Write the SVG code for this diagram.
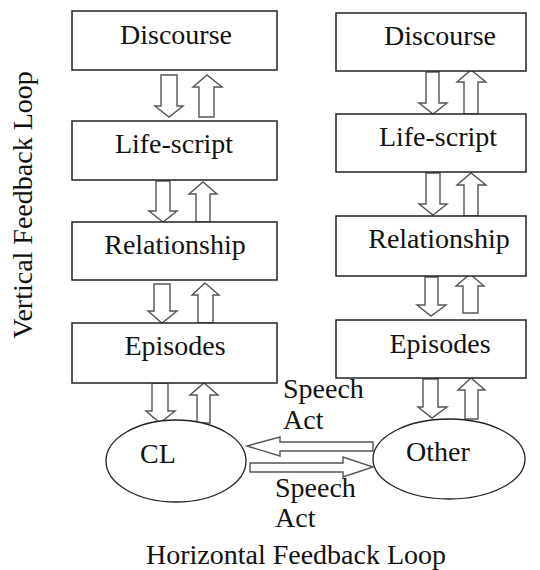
<svg xmlns="http://www.w3.org/2000/svg" width="540" height="570" viewBox="0 0 540 570">
<style>
.box{fill:#fff;stroke:#222;stroke-width:1.5}
.ell{fill:#fff;stroke:#222;stroke-width:1.3}
.arr{fill:#fff;stroke:#555;stroke-width:1.4;stroke-linejoin:miter}
text{font-family:'Liberation Serif','Times New Roman',serif;font-size:28px;fill:#111}
.c{text-anchor:middle}
</style>
<rect width="540" height="570" fill="#fff"/>
<g id="connectors">
<path class="arr" d="M161,75 H177 V106 H183 L169,117 L155,106 H161 Z"/>
<path class="arr" d="M199,117 V87 H193 L207,75 L222,87 H214 V117 Z"/>
<path class="arr" d="M156,181 H170 V211 H177 L163,222 L149,211 H156 Z"/>
<path class="arr" d="M196,222 V194 H189 L203,182 L217,194 H210 V222 Z"/>
<path class="arr" d="M154,284 H170 V311 H177 L162,323 L148,311 H154 Z"/>
<path class="arr" d="M198,323 V295 H192 L205,283 L219,295 H213 V323 Z"/>
<path class="arr" d="M152,383 H168 V411 H175 L160,423 L146,411 H152 Z"/>
<path class="arr" d="M197,423 V395 H190 L204,383 L218,395 H210 V423 Z"/>
<path class="arr" d="M426,72 H439 V103 H447 L433,114 L419,103 H426 Z"/>
<path class="arr" d="M464,114 V82 H457 L471,70 L486,82 H478 V114 Z"/>
<path class="arr" d="M426,173 H440 V204 H447 L433,215 L419,204 H426 Z"/>
<path class="arr" d="M464,216 V185 H457 L471,173 L486,185 H478 V216 Z"/>
<path class="arr" d="M425,277 H438 V305 H446 L431,316 L417,305 H425 Z"/>
<path class="arr" d="M463,313 V286 H456 L470,274 L484,286 H478 V313 Z"/>
<path class="arr" d="M423,379 H438 V407 H447 L432,418 L418,407 H423 Z"/>
<path class="arr" d="M465,419 V390 H458 L471,378 L485,390 H478 V419 Z"/>
<path class="arr" d="M373,442 H280 V437 L247,446 L280,456 V451 H373 Z"/>
<path class="arr" d="M250,463 H343 V457 L373,467 L343,477 V472 H250 Z"/>
</g>
<g id="discourse-left"><rect class="box" x="72" y="11" width="205" height="59"/><text class="c" x="176" y="44">Discourse</text></g>
<g id="lifescript-left"><rect class="box" x="72" y="121" width="205" height="59"/><text class="c" x="174" y="153">Life-script</text></g>
<g id="relationship-left"><rect class="box" x="72" y="222" width="205" height="58"/><text class="c" x="175" y="254">Relationship</text></g>
<g id="episodes-left"><rect class="box" x="72" y="323" width="205" height="60"/><text class="c" x="175" y="355">Episodes</text></g>
<g id="discourse-right"><rect class="box" x="336" y="13" width="190" height="58"/><text class="c" x="440" y="45">Discourse</text></g>
<g id="lifescript-right"><rect class="box" x="336" y="114" width="190" height="58"/><text class="c" x="438" y="146">Life-script</text></g>
<g id="relationship-right"><rect class="box" x="336" y="216" width="190" height="60"/><text class="c" x="439" y="248">Relationship</text></g>
<g id="episodes-right"><rect class="box" x="336" y="320" width="190" height="58"/><text class="c" x="440" y="353">Episodes</text></g>
<g id="cl"><ellipse class="ell" cx="176" cy="461" rx="70" ry="41"/><text class="c" x="158" y="463">CL</text></g>
<g id="other"><ellipse class="ell" cx="449" cy="459" rx="76" ry="40"/><text class="c" x="438" y="461">Other</text></g>
<g id="labels">
<text x="283" y="398">Speech</text>
<text x="283" y="429">Act</text>
<text x="275" y="497">Speech</text>
<text x="275" y="527">Act</text>
<text class="c" x="296" y="564">Horizontal Feedback Loop</text>
<text class="c" transform="translate(32,205) rotate(-90)">Vertical Feedback Loop</text>
</g>
</svg>
